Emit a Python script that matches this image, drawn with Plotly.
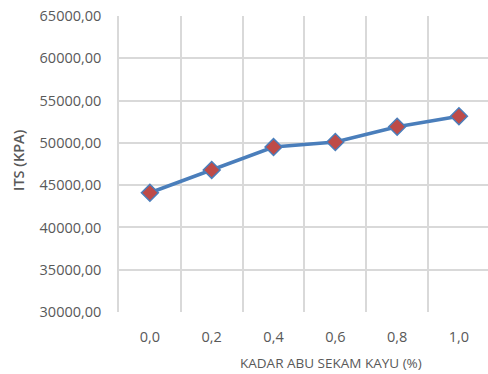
import plotly.graph_objects as go

# Kadar abu sekam kayu (%) vs ITS (kPa)
kadar_abu = [0.0, 0.2, 0.4, 0.6, 0.8, 1.0]
its_kpa = [44100, 46800, 49500, 50100, 51900, 53150]

y_ticks = [30000, 35000, 40000, 45000, 50000, 55000, 60000, 65000]

x_title = "KADAR ABU SEKAM KAYU (%)"
y_title = "ITS (KPA)"

font_family = "Open Sans, Lato, sans-serif"
grid_color = "#d9d9d9"
text_color = "#595959"

fig = go.Figure()
fig.add_trace(go.Scatter(
    x=kadar_abu,
    y=its_kpa,
    mode="lines+markers",
    line=dict(color="#4a7ebb", width=3.5),
    marker=dict(symbol="diamond", size=13, color="#be4b48",
                line=dict(color="#4a7ebb", width=1.5)),
    showlegend=False,
))

fig.update_layout(
    width=488,
    height=374,
    margin=dict(l=119, r=0, t=16, b=62),
    paper_bgcolor="white",
    plot_bgcolor="white",
    separators=",.",
    font=dict(family=font_family, size=14.5, color=text_color),
)

fig.update_xaxes(
    range=[-0.1, 1.094],
    tickmode="array",
    tickvals=kadar_abu,
    tickformat=".1f",
    showgrid=False,
    zeroline=False,
    showline=False,
    ticks="",
    ticklabelstandoff=14,
    minor=dict(tickmode="linear", tick0=-0.1, dtick=0.2, showgrid=True,
               gridcolor=grid_color, gridwidth=1.5, ticks=""),
)

fig.update_yaxes(
    range=[30000, 65000],
    tickmode="array",
    tickvals=y_ticks,
    tickformat=".2f",
    showgrid=True,
    gridcolor=grid_color,
    gridwidth=1.5,
    zeroline=False,
    showline=True,
    linecolor=grid_color,
    linewidth=1.5,
    mirror=False,
    ticks="",
    ticklabelstandoff=13,
)

# Axis titles placed as annotations (the chart is wider than the visible area)
fig.add_annotation(
    text=x_title, xref="paper", yref="paper", x=0.5745, y=-0.1723,
    xanchor="center", yanchor="middle", showarrow=False,
    font=dict(size=13.5, color=text_color),
)
fig.add_annotation(
    text=y_title, xref="paper", yref="paper", x=-0.2737, y=0.5135,
    xanchor="center", yanchor="middle", textangle=-90, showarrow=False,
    font=dict(size=14.5, color=text_color, weight=600),
)

fig.write_html("out.html")
